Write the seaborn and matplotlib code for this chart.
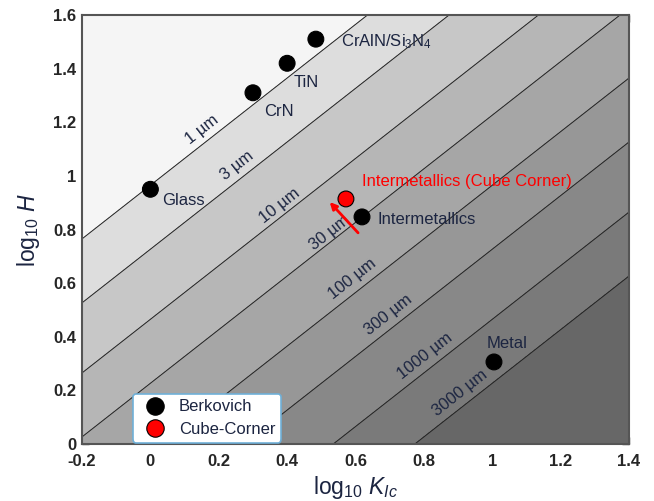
import numpy as np
import matplotlib
matplotlib.use("Agg")
import matplotlib.pyplot as plt
import seaborn as sns
import pandas as pd

# crack length contours (um) and model offset: log H = log K + b - 0.5 log c
crack_lengths = [1, 3, 10, 30, 100, 300, 1000, 3000]
b_offset = 0.965

band_colors = ['#f5f5f5', '#dddddd', '#c7c7c7', '#b6b6b6', '#a6a6a6',
               '#979797', '#888888', '#7a7a7a', '#676767']

berk_names = ['Glass', 'CrN', 'TiN', 'CrAlN/Si$_3$N$_4$', 'Intermetallics', 'Metal']
berk_k = [0.0, 0.30, 0.40, 0.484, 0.619, 1.005]
berk_h = [0.95, 1.31, 1.42, 1.51, 0.847, 0.306]

cube_names = ['Intermetallics (Cube Corner)']
cube_k = [0.572]
cube_h = [0.914]

sns.set_theme(style="ticks")
plt.rcParams['font.family'] = ['Liberation Sans', 'DejaVu Sans']
plt.rcParams['mathtext.fontset'] = 'custom'
plt.rcParams['mathtext.rm'] = 'Liberation Sans'
plt.rcParams['mathtext.it'] = 'Liberation Sans:italic'

fig = plt.figure(figsize=(6.54, 5.01), dpi=100)
ax = fig.add_axes([0.1254, 0.1138, 0.8364, 0.8562])

kx = np.linspace(-0.2, 1.4, 300)
hy = np.linspace(0, 1.6, 300)
K, H = np.meshgrid(kx, hy)
logc = 2 * (K + b_offset - H)
levels = [-10] + list(np.log10(crack_lengths)) + [10]
ax.contourf(K, H, logc, levels=levels, colors=band_colors)
ax.contour(K, H, logc, levels=np.log10(crack_lengths), colors='#222222', linewidths=0.7)

txt_color = '#1c2541'
label_x = [0.151, 0.253, 0.379, 0.525, 0.592, 0.695, 0.803, 0.905]
label_dy = [0.058, 0.058, 0.045, 0.035, 0.06, 0.06, 0.062, 0.06]
for c, lx, dy in zip(crack_lengths, label_x, label_dy):
    ly = lx + b_offset - 0.5 * np.log10(c) + dy
    ax.text(lx, ly, f'{c} µm', rotation=45, transform_rotates_text=True,
            ha='center', va='center', fontsize=12, color=txt_color,
            rotation_mode='anchor')

df_b = pd.DataFrame({'K': berk_k, 'H': berk_h, 'tip': 'Berkovich'})
df_c = pd.DataFrame({'K': cube_k, 'H': cube_h, 'tip': 'Cube-Corner'})
df = pd.concat([df_b, df_c])

ax.annotate('', xy=(0.519, 0.91), xytext=(0.613, 0.78),
            arrowprops=dict(arrowstyle='-|>', color='red', lw=2, mutation_scale=10))

sns.scatterplot(data=df, x='K', y='H', hue='tip', palette={'Berkovich': 'black', 'Cube-Corner': 'red'},
                s=130, edgecolor='black', linewidth=0.8, ax=ax, zorder=5)

label_off = [(0.035, -0.04), (0.033, -0.07), (0.02, -0.07), (0.075, -0.01), (0.045, -0.011), (-0.022, 0.067)]
for name, x, y, (dx, dy) in zip(berk_names, berk_k, berk_h, label_off):
    ax.text(x + dx, y + dy, name, fontsize=12, color=txt_color, ha='left', va='center')
for name, x, y in zip(cube_names, cube_k, cube_h):
    ax.text(x + 0.047, y + 0.064, name, fontsize=12, color='red', ha='left', va='center')

ax.set_xlim(-0.2, 1.4)
ax.set_ylim(0, 1.6)
ax.set_xticks(np.arange(-0.2, 1.41, 0.2))
ax.set_yticks(np.arange(0, 1.61, 0.2))
ax.set_xticklabels(['-0.2', '0', '0.2', '0.4', '0.6', '0.8', '1', '1.2', '1.4'])
ax.set_yticklabels(['0', '0.2', '0.4', '0.6', '0.8', '1', '1.2', '1.4', '1.6'])
ax.tick_params(direction='in', top=True, right=True, length=5, width=1, color='#333333',
               labelsize=12, pad=4)
ax.tick_params(axis='x', pad=7)
for lab in ax.get_xticklabels() + ax.get_yticklabels():
    lab.set_fontweight('bold')
for sp in ax.spines.values():
    sp.set_color('#555555')
    sp.set_linewidth(1.5)
ax.set_xlabel('log$_{10}$ $K_{Ic}$', fontsize=16.5, color=txt_color, labelpad=4)
ax.set_ylabel('log$_{10}$ $H$', fontsize=16.5, color=txt_color, labelpad=8)

leg = ax.legend(loc='lower left', bbox_to_anchor=(0.093, 0.003), borderaxespad=0, fontsize=12,
                frameon=True, fancybox=True, handletextpad=0.4, borderpad=0.35,
                labelspacing=0.45, markerscale=1.1)
leg.get_frame().set_edgecolor('#6fb0d8')
leg.get_frame().set_linewidth(1.2)
leg.get_frame().set_alpha(1)
for t in leg.get_texts():
    t.set_color(txt_color)

fig.savefig('out.png', dpi=100)
